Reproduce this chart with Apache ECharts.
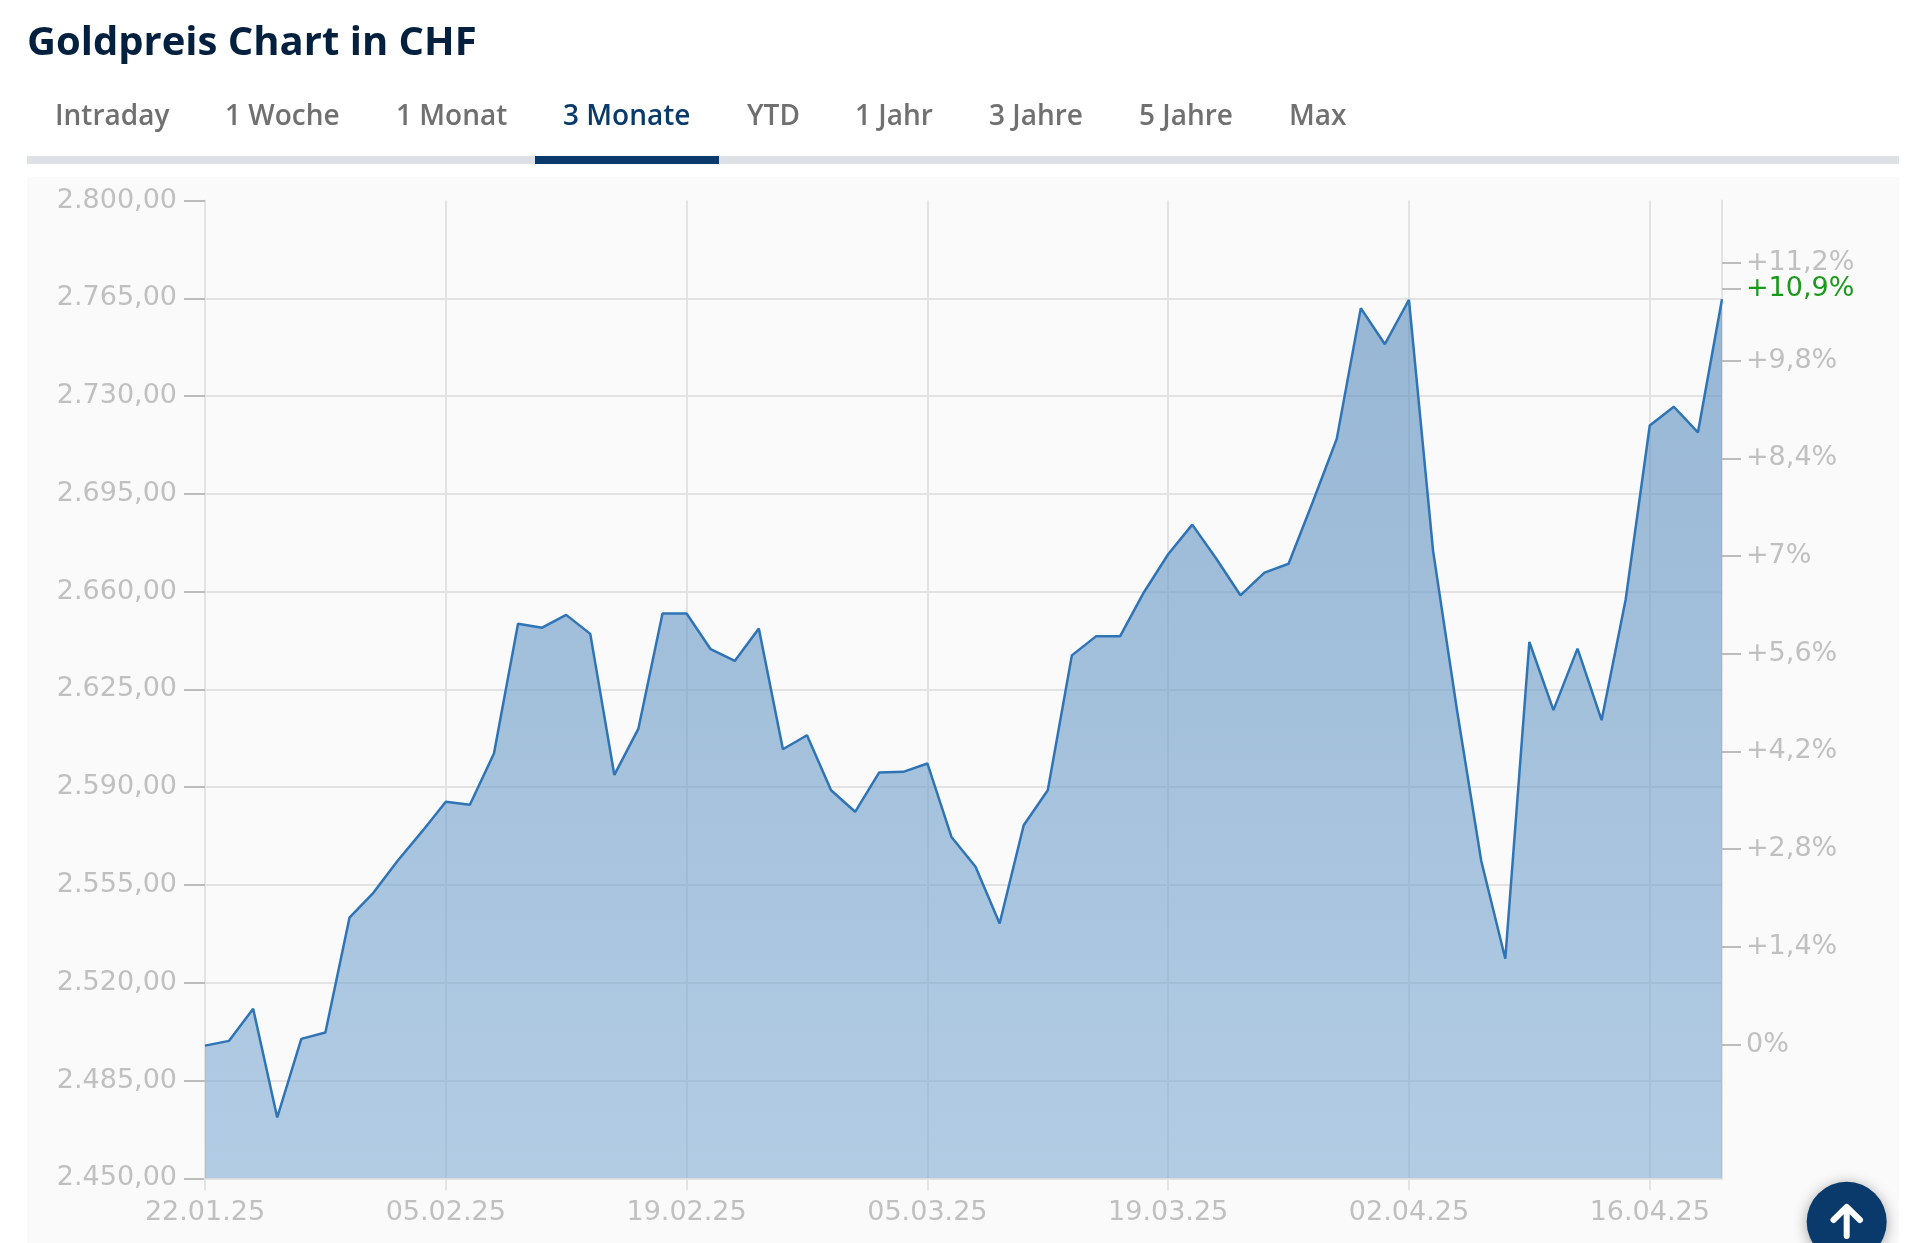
<!DOCTYPE html>
<html>
<head>
<meta charset="utf-8">
<title>Goldpreis Chart in CHF</title>
<script src="https://cdn.jsdelivr.net/npm/echarts@6/dist/echarts.min.js"></script>
<style>
html,body{margin:0;padding:0;background:#fff;overflow:hidden}
#chart{width:1916px;height:1243px}
</style>
</head>
<body>
<div id="chart"></div>
<script>
const titleText = 'Goldpreis Chart in CHF';
const tabs = ['Intraday','1 Woche','1 Monat','3 Monate','YTD','1 Jahr','3 Jahre','5 Jahre','Max'];
const activeTab = '3 Monate';
const dates = [
 '22.01.25','23.01.25','24.01.25','27.01.25','28.01.25','29.01.25','30.01.25','31.01.25',
 '03.02.25','04.02.25','05.02.25','06.02.25','07.02.25','10.02.25','11.02.25','12.02.25','13.02.25','14.02.25',
 '17.02.25','18.02.25','19.02.25','20.02.25','21.02.25','24.02.25','25.02.25','26.02.25','27.02.25','28.02.25',
 '03.03.25','04.03.25','05.03.25','06.03.25','07.03.25','10.03.25','11.03.25','12.03.25','13.03.25','14.03.25',
 '17.03.25','18.03.25','19.03.25','20.03.25','21.03.25','24.03.25','25.03.25','26.03.25','27.03.25','28.03.25',
 '31.03.25','01.04.25','02.04.25','03.04.25','04.04.25','07.04.25','08.04.25','09.04.25','10.04.25','11.04.25',
 '14.04.25','15.04.25','16.04.25','17.04.25','18.04.25','21.04.25'
];
const prices = [
 2497.5,2499.2,2510.7,2471.8,2499.9,2502.2,2543.3,2552.3,2563.7,2574,
 2584.8,2583.7,2602.1,2648.5,2647.1,2651.7,2644.9,2594.4,2611,2652.2,
 2652.2,2639.4,2635.2,2646.8,2603.6,2608.6,2588.9,2581.2,2595.3,2595.5,
 2598.5,2572.2,2561.5,2541.2,2576.4,2588.9,2637.2,2644,2644,2659.9,
 2673.4,2684,2671.8,2658.7,2666.8,2670,2692,2714.7,2761.5,2748.6,
 2764.5,2674.7,2617.3,2563.7,2528.6,2642,2617.6,2639.6,2614,2657.2,
 2719.5,2726.2,2717,2764.7
];
const yMin = 2450, yMax = 2800, yStep = 35;
const basePrice = 2497.9;
const pctTicks = [0,1.4,2.8,4.2,5.6,7,8.4,9.8,11.2];
const pctCurrentPos = 10.83;
const pctCurrentLabel = '+10,9%';

const fontFamily = '"DejaVu Sans", sans-serif';
const uiFont = '"Open Sans", sans-serif';
const labelColor = '#c0c0c0';
const tickColor = '#bcbcbc';
const gridColor = '#e3e3e3';
const navy = '#0a3a6b';

const tabX = [55,225,396,563,747,855,989,1139,1289];

function fmtPrice(v){
  const s = v.toFixed(2).replace('.',',');
  return s.replace(/^(\d)(\d{3})/, '$1.$2');
}
function fmtPct(v){
  if (v === 0) return '0%';
  return '+' + String(v).replace('.',',') + '%';
}

const pctMin = (yMin/basePrice-1)*100;
const pctMax = (yMax/basePrice-1)*100;

const graphics = [
  {type:'rect',silent:true,z:-10,shape:{x:27,y:177,width:1872,height:1066},style:{fill:'#fafafa'}},
  {type:'rect',silent:true,shape:{x:27,y:156,width:1872,height:8},style:{fill:'#dde0e6'}},
  {type:'rect',silent:true,shape:{x:535,y:156,width:184,height:8},style:{fill:navy}},
  {type:'circle',silent:true,z:20,shape:{cx:1846.7,cy:1221.7,r:40},
    style:{fill:navy,shadowBlur:14,shadowColor:'rgba(0,0,0,0.35)',shadowOffsetY:2}},
  {type:'polyline',silent:true,z:21,shape:{points:[[1846.7,1236],[1846.7,1208]]},
    style:{stroke:'#fff',lineWidth:6,lineCap:'round',fill:null}},
  {type:'polyline',silent:true,z:21,shape:{points:[[1833.5,1220],[1846.7,1207],[1860,1220]]},
    style:{stroke:'#fff',lineWidth:6,lineCap:'round',lineJoin:'round',fill:null}}
];
tabs.forEach(function(t,i){
  graphics.push({type:'text',silent:true,x:tabX[i],y:117,
    style:{text:t,font:'600 28px '+uiFont,fill:t===activeTab?navy:'#707070',verticalAlign:'middle'}});
});

const chart = echarts.init(document.getElementById('chart'));
chart.setOption({
  animation:false,
  backgroundColor:'transparent',
  title:{text:titleText,left:22,top:19,
    textStyle:{fontFamily:uiFont,fontSize:40,fontWeight:700,color:'#04203f'}},
  graphic:graphics,
  grid:{left:205,right:194,top:200.6,bottom:64.7,containLabel:false},
  xAxis:{
    type:'category',data:dates,boundaryGap:false,
    axisLine:{show:true,onZero:false,lineStyle:{color:gridColor,width:2}},
    axisTick:{show:true,interval:9,length:12,lineStyle:{color:gridColor,width:2}},
    axisLabel:{show:true,interval:9,margin:21,fontFamily:fontFamily,fontSize:27,color:labelColor},
    splitLine:{show:true,interval:9,lineStyle:{color:gridColor,width:2}}
  },
  yAxis:[
    {type:'value',min:yMin,max:yMax,interval:yStep,position:'left',
      axisLine:{show:true,lineStyle:{color:gridColor,width:2}},
      axisTick:{show:true,length:21,lineStyle:{color:tickColor,width:2}},
      axisLabel:{margin:28,padding:[3,0,0,0],fontFamily:fontFamily,fontSize:27,color:labelColor,formatter:fmtPrice},
      splitLine:{show:true,showMinLine:false,showMaxLine:false,lineStyle:{color:gridColor,width:2}}
    },
    {type:'value',min:pctMin,max:pctMax,position:'right',
      axisLine:{show:true,onZero:false,lineStyle:{color:gridColor,width:2}},
      axisTick:{show:true,length:19,customValues:pctTicks,lineStyle:{color:tickColor,width:2}},
      axisLabel:{margin:24,padding:[3,0,0,0],fontFamily:fontFamily,fontSize:27,color:labelColor,
        customValues:pctTicks,formatter:fmtPct},
      splitLine:{show:false}
    },
    {type:'value',min:pctMin,max:pctMax,position:'right',
      axisLine:{show:false,onZero:false},
      axisTick:{show:true,length:19,customValues:[pctCurrentPos],lineStyle:{color:tickColor,width:2}},
      axisLabel:{margin:24,fontFamily:fontFamily,fontSize:27,color:'#1a9a1a',
        customValues:[pctCurrentPos],formatter:function(){return pctCurrentLabel;}},
      splitLine:{show:false}
    }
  ],
  series:[{
    type:'line',data:prices,showSymbol:false,symbol:'none',smooth:false,
    lineStyle:{color:'#2f74b5',width:2.5},
    areaStyle:{opacity:1,color:new echarts.graphic.LinearGradient(0,0,0,1,[
      {offset:0,color:'rgba(85,138,187,0.6)'},
      {offset:1,color:'rgba(130,173,213,0.6)'}
    ])}
  }]
});
</script>
</body>
</html>
